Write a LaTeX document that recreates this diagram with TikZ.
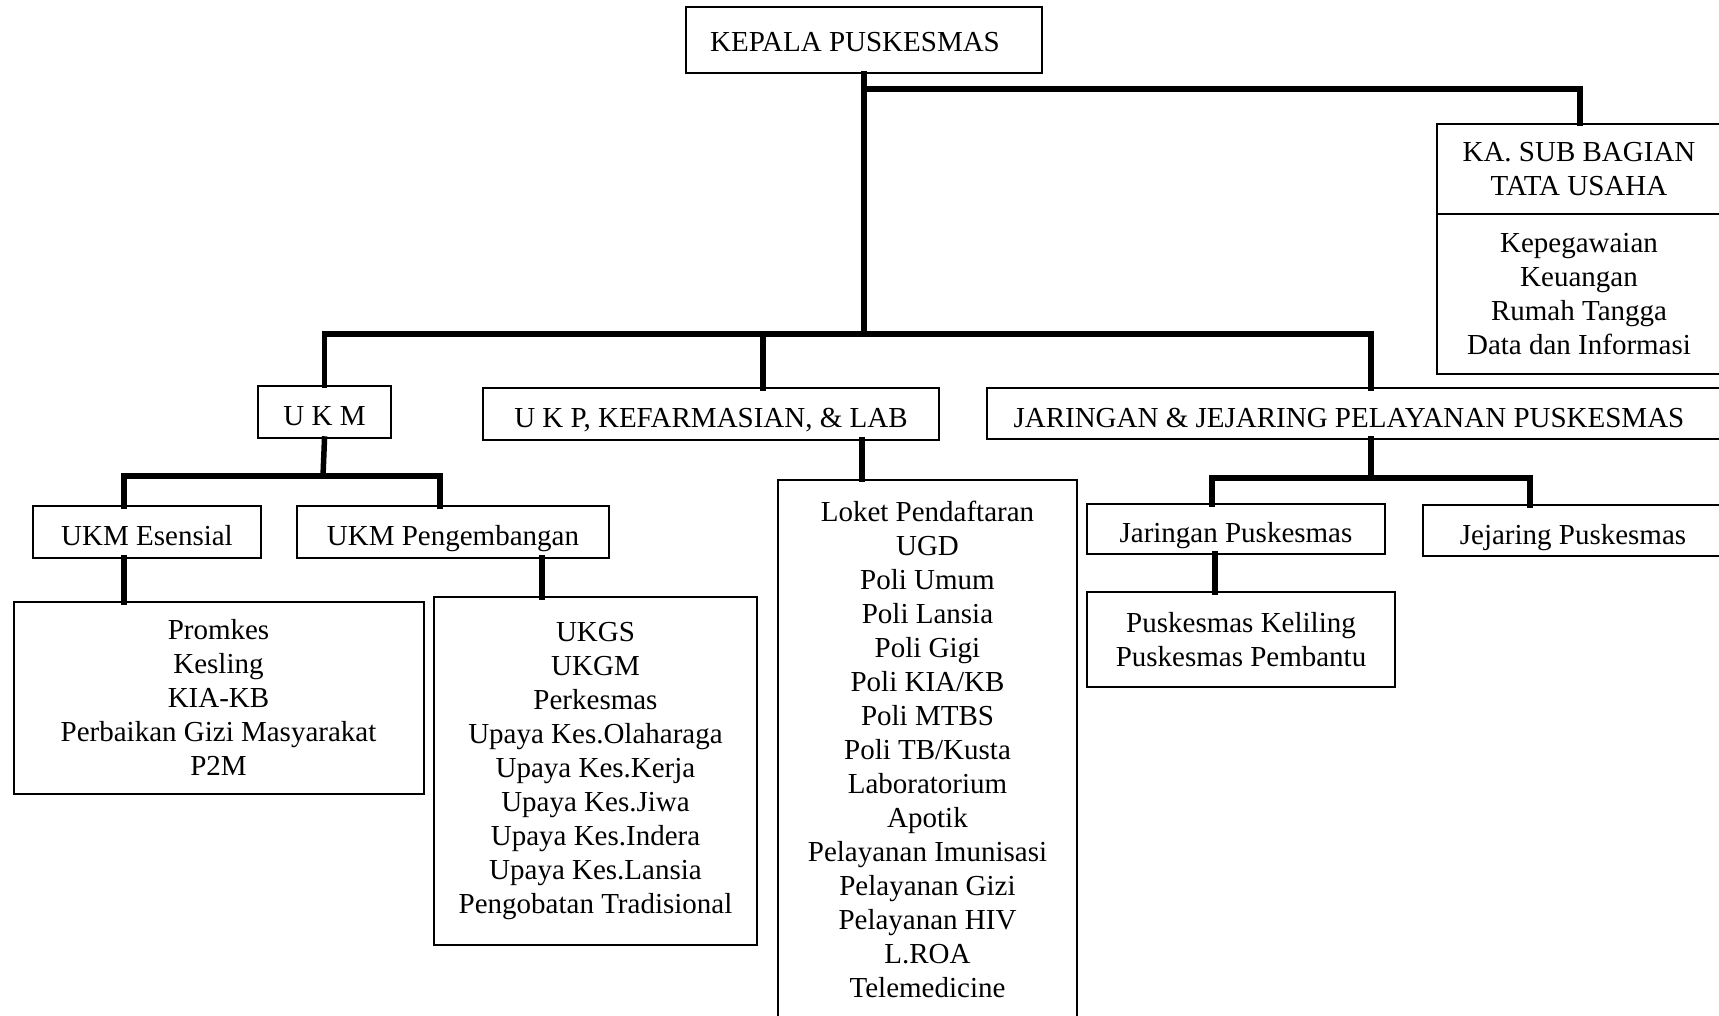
\documentclass[tikz,border=0pt]{standalone}
\usepackage{fontspec}
\setmainfont{Liberation Serif}
\begin{document}
\begin{tikzpicture}[x=1pt,y=-1pt,
  box/.style={draw=black,line width=2pt,inner sep=0pt,align=center,
    font=\fontsize{29}{34}\selectfont},
  one/.style={text height=27pt,text depth=0pt},
  conn/.style={draw=black,line width=5.5pt,line join=miter,line cap=rect}]
\clip (0,0) rectangle (1719,1015);
\fill[white] (0,0) rectangle (1719,1015);
% nodes
\node[box,minimum width=356pt,minimum height=66pt,text height=22pt,text depth=0pt] (kepala) at (864,40) {KEPALA PUSKESMAS\hspace*{18pt}};
\node[box,minimum width=284pt,minimum height=90pt] (ka) at (1579,169) {KA. SUB BAGIAN\\TATA USAHA};
\node[box,minimum width=284pt,minimum height=160pt] (kaisi) at (1579,294) {Kepegawaian\\Keuangan\\Rumah Tangga\\Data dan Informasi};
\node[box,one,minimum width=133pt,minimum height=52pt] (ukm) at (324.5,412) {U K M};
\node[box,one,minimum width=456pt,minimum height=52pt] (ukp) at (711,414) {U K P, KEFARMASIAN, \& LAB};
\node[box,one,minimum width=734pt,minimum height=51pt] (jar) at (1354,413.5) {\hspace*{-10pt}JARINGAN \& JEJARING PELAYANAN PUSKESMAS};
\node[box,one,minimum width=228pt,minimum height=52pt] (ukmes) at (147,532) {UKM Esensial};
\node[box,one,minimum width=312pt,minimum height=52pt] (ukmpeng) at (453,532) {UKM Pengembangan};
\node[box,minimum width=410pt,minimum height=192pt] (promkes) at (218.5,697.5) {Promkes\\Kesling\\KIA-KB\\Perbaikan Gizi Masyarakat\\P2M};
\node[box,minimum width=323pt,minimum height=348pt] (ukgs) at (595.5,771) {UKGS\\UKGM\\Perkesmas\\Upaya Kes.Olaharaga\\Upaya Kes.Kerja\\Upaya Kes.Jiwa\\Upaya Kes.Indera\\Upaya Kes.Lansia\\Pengobatan Tradisional};
\node[box,minimum width=299pt,minimum height=560pt] (loket) at (927.5,760) {};
\node[align=center,inner sep=0pt,font=\fontsize{29}{34}\selectfont] (loketlist) at (927.5,749) {Loket Pendaftaran\\UGD\\Poli Umum\\Poli Lansia\\Poli Gigi\\Poli KIA/KB\\Poli MTBS\\Poli TB/Kusta\\Laboratorium\\Apotik\\Pelayanan Imunisasi\\Pelayanan Gizi\\Pelayanan HIV\\L.ROA\\Telemedicine};
\node[box,one,minimum width=298pt,minimum height=50pt] (jarpus) at (1236,529) {Jaringan Puskesmas};
\node[box,one,minimum width=300pt,minimum height=51pt] (jejpus) at (1573,530.5) {Jejaring Puskesmas};
\node[box,minimum width=308pt,minimum height=95pt] (pkel) at (1241,639.5) {Puskesmas Keliling\\Puskesmas Pembantu};
% junction coordinates
\coordinate (bus) at (864,334);
\coordinate (topbus) at (864,89);
\coordinate (kadrop) at (1580,123);
\coordinate (ukpdrop) at (763,388);
\coordinate (jardrop) at (1371,388);
\coordinate (ukmbus) at (323,476);
\coordinate (esdrop) at (124,506);
\coordinate (pengdrop) at (440,506);
\coordinate (esout) at (124,558);
\coordinate (esin) at (124,602);
\coordinate (pengout) at (542,558);
\coordinate (pengin) at (542,597);
\coordinate (ukpout) at (862,440);
\coordinate (jarout) at (1371,439);
\coordinate (jarbus) at (1371,478);
\coordinate (jardrop1) at (1212,504);
\coordinate (jardrop2) at (1530,505);
\coordinate (jpout) at (1215,554);
\coordinate (jpin) at (1215,592);
% connectors
\draw[conn] (kepala.south) -- (bus);
\draw[conn] (topbus) -| (kadrop);
\draw[conn] (ukm.north) |- (bus) -| (jardrop);
\draw[conn] (ukpdrop) -- (ukpdrop |- bus);
\draw[conn] (ukm.south) -- (ukmbus);
\draw[conn] (esdrop) |- (ukmbus) -| (pengdrop);
\draw[conn] (esout) -- (esin);
\draw[conn] (pengout) -- (pengin);
\draw[conn] (ukpout) -- (ukpout |- loket.north);
\draw[conn] (jarout) -- (jarbus);
\draw[conn] (jardrop1) |- (jarbus) -| (jardrop2);
\draw[conn] (jpout) -- (jpin);
\end{tikzpicture}
\end{document}
